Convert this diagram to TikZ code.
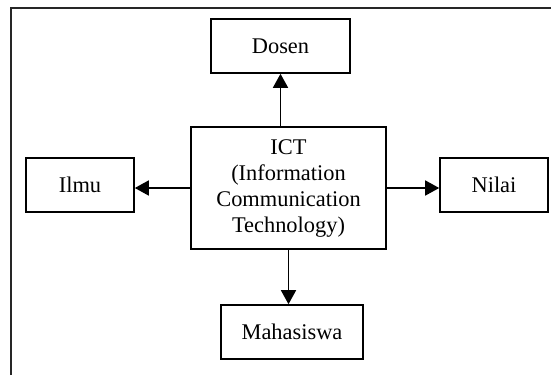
\documentclass[tikz,border=0pt]{standalone}
\usepackage{fontspec}
\setmainfont{Liberation Serif}
\usetikzlibrary{arrows.meta}
\tikzset{
  box/.style={draw=black, line width=0.8pt, inner sep=0pt, align=center,
    font=\fontsize{11.2}{13}\selectfont},
  conn/.style={draw=black, line width=0.8pt, -{Triangle[length=7pt,width=7.5pt]}},
  frame/.style={draw=black!85, line width=1pt}
}
\begin{document}
\begin{tikzpicture}[x=0.5pt,y=-0.5pt]
\useasboundingbox (0,0) rectangle (551,375);
\draw[frame] (11,375) -- (11,8) -- (551,8);
\node[box, minimum width=69.5pt, minimum height=27pt] (dosen) at (280.5,46) {Dosen};
\node[box, minimum width=97.5pt, minimum height=61pt] (ict) at (288.5,188)
  {ICT\\(Information\\Communication\\Technology)};
\node[box, minimum width=54pt, minimum height=27pt] (ilmu) at (80,185) {Ilmu};
\node[box, minimum width=54pt, minimum height=27pt] (nilai) at (494,185) {Nilai};
\node[box, minimum width=71pt, minimum height=27pt] (mhs) at (292,332) {Mahasiswa};
\draw[conn] (dosen.south |- ict.north) -- (dosen.south);
\draw[conn] (ict.south) -- (ict.south |- mhs.north);
\draw[conn] (ict.west) -- (ict.west -| ilmu.east);
\draw[conn] (ict.east) -- (ict.east -| nilai.west);
\end{tikzpicture}
\end{document}
